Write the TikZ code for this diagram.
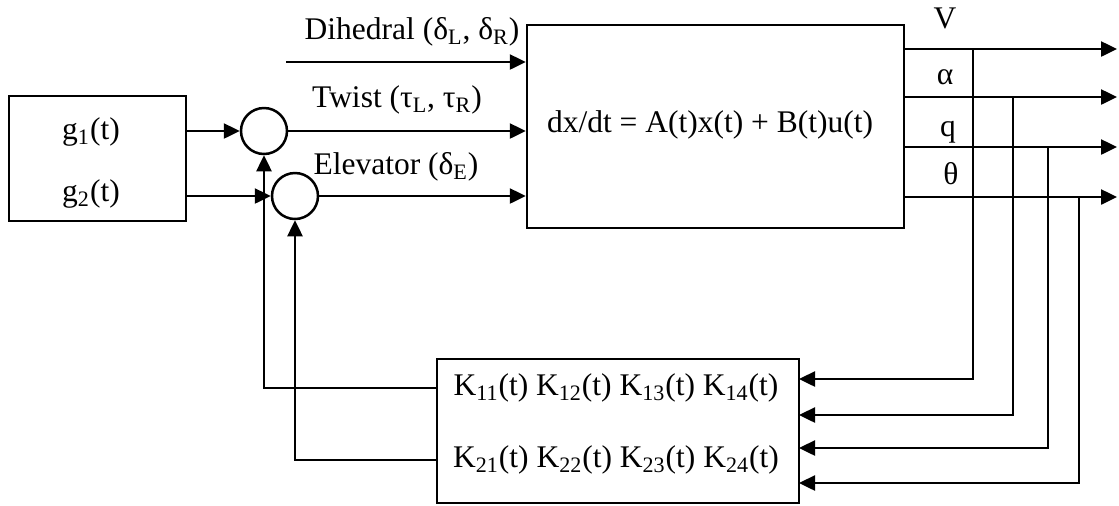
\documentclass[tikz,border=0pt]{standalone}
\usepackage{fontspec}
\setmainfont{Liberation Serif}
\usetikzlibrary{arrows.meta}
\begin{document}
\begin{tikzpicture}[x=0.5pt,y=-0.5pt,line width=1.25pt,
  font=\fontsize{15.75}{18}\selectfont,
  arr/.style={-{Triangle[length=8pt,width=7.5pt]}},
  blk/.style={draw,rectangle,inner sep=0pt},
  sumj/.style={draw,circle,minimum size=23pt,inner sep=0pt},
  lbl/.style={inner sep=0pt}]
\useasboundingbox (0,0) rectangle (1119,505);

% blocks
\node[blk,minimum width=88.5pt,minimum height=62.5pt] (gbox) at (97.5,158.5) {};
\node[lbl] (g1) at (91,132) {g\textsubscript{1}(t)};
\node[lbl] (g2) at (91,194) {g\textsubscript{2}(t)};
\node[sumj] (sum1) at (264,131) {};
\node[sumj] (sum2) at (295,196) {};
\node[blk,minimum width=188.5pt,minimum height=101.5pt] (plant) at (715.5,126.5) {};
\node[lbl] (eq) at (710,125) {dx/dt = A(t)x(t) + B(t)u(t)};
\node[blk,minimum width=181pt,minimum height=72pt] (kbox) at (618,431) {};
\node[lbl] (kr1) at (616,388) {K\textsubscript{11}(t) K\textsubscript{12}(t) K\textsubscript{13}(t) K\textsubscript{14}(t)};
\node[lbl] (kr2) at (616,460) {K\textsubscript{21}(t) K\textsubscript{22}(t) K\textsubscript{23}(t) K\textsubscript{24}(t)};

% input labels
\node[lbl] (ldih) at (412,32) {Dihedral (δ\textsubscript{L}, δ\textsubscript{R})};
\node[lbl] (ltw) at (397,100) {Twist (τ\textsubscript{L}, τ\textsubscript{R})};
\node[lbl] (lel) at (396,167) {Elevator (δ\textsubscript{E})};

% output labels
\node[lbl] (lV) at (945,18) {V};
\node[lbl] (la) at (945,77) {α};
\node[lbl] (lq) at (948,132) {q};
\node[lbl] (lt) at (951,174) {θ};

% inputs
\draw[arr] (sum1.west -| gbox.east) -- (sum1.west);
\draw[arr] (sum2.west -| gbox.east) -- (sum2.west);
\coordinate (dstart) at (286,62);
\draw[arr] (dstart) -- (dstart -| plant.west);
\draw[arr] (sum1.east) -- (sum1.east -| plant.west);
\draw[arr] (sum2.east) -- (sum2.east -| plant.west);

% outputs
\coordinate (oV) at (904,49);  \coordinate (eV) at (1117,49);
\coordinate (oa) at (904,97);  \coordinate (ea) at (1117,97);
\coordinate (oq) at (904,147); \coordinate (eq2) at (1117,147);
\coordinate (ot) at (904,197); \coordinate (et) at (1117,197);
\draw[arr] (oV) -- (eV);
\draw[arr] (oa) -- (ea);
\draw[arr] (oq) -- (eq2);
\draw[arr] (ot) -- (et);

% taps to gain block
\coordinate (tap1) at (973,49);
\coordinate (tap2) at (1013,97);
\coordinate (tap3) at (1048,147);
\coordinate (tap4) at (1079,197);
\coordinate (kin1) at (799,379);
\coordinate (kin2) at (799,415);
\coordinate (kin3) at (799,448);
\coordinate (kin4) at (799,483);
\draw[arr] (tap1) |- (kin1);
\draw[arr] (tap2) |- (kin2);
\draw[arr] (tap3) |- (kin3);
\draw[arr] (tap4) |- (kin4);

% feedback
\draw[arr] (kr1 -| kbox.west) -| (sum1.south);
\draw[arr] (kr2 -| kbox.west) -| (sum2.south);
\end{tikzpicture}
\end{document}
